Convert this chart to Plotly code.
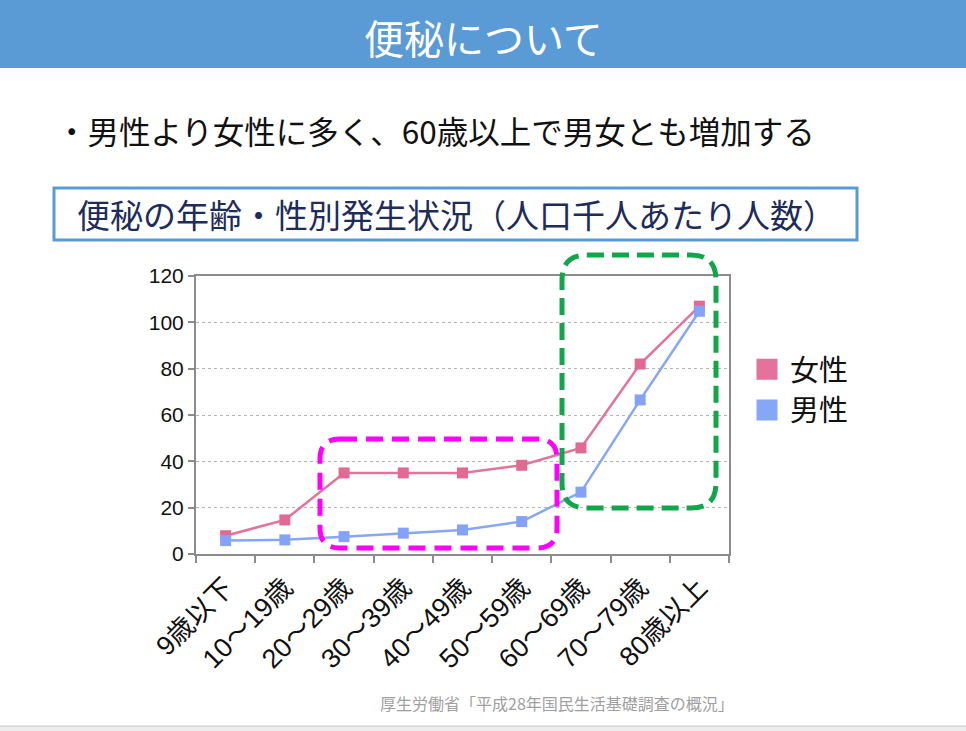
import plotly.graph_objects as go

# data (per 1000 people)
ages = ["9歳以下", "10～19歳", "20～29歳", "30～39歳", "40～49歳",
        "50～59歳", "60～69歳", "70～79歳", "80歳以上"]
female = [7.9, 14.7, 35.0, 35.0, 35.0, 38.3, 45.8, 82.0, 107.0]
male = [5.8, 6.1, 7.5, 9.0, 10.4, 14.0, 26.7, 66.5, 104.8]
y_ticks = [0, 20, 40, 60, 80, 100, 120]

W, H = 966, 731
L, R, T, B = 196, 729, 276, 554   # plot area in page pixels

pink = "#E3739A"
blue = "#86A6F8"
jp = "Noto Sans CJK JP"
latin = "Liberation Sans, Noto Sans CJK JP"


def px(x):
    return (x - L) / (R - L)


def py(y):
    return (B - y) / (B - T)


def rounded_box(x0, y0, x1, y1, r):
    # rounded rectangle path, given in page pixels, converted to paper units
    pts = [
        ("M", [(x0 + r, y0)]),
        ("L", [(x1 - r, y0)]),
        ("Q", [(x1, y0), (x1, y0 + r)]),
        ("L", [(x1, y1 - r)]),
        ("Q", [(x1, y1), (x1 - r, y1)]),
        ("L", [(x0 + r, y1)]),
        ("Q", [(x0, y1), (x0, y1 - r)]),
        ("L", [(x0, y0 + r)]),
        ("Q", [(x0, y0), (x0 + r, y0)]),
    ]
    s = ""
    for cmd, p in pts:
        s += cmd + " " + " ".join("%.4f,%.4f" % (px(a), py(b)) for a, b in p) + " "
    return s + "Z"


fig = go.Figure()

fig.add_trace(go.Scatter(
    x=ages, y=female, mode="lines+markers", name="女性", showlegend=False,
    line=dict(color=pink, width=2.5),
    marker=dict(symbol="square", size=11, color="#E06A92"),
))
fig.add_trace(go.Scatter(
    x=ages, y=male, mode="lines+markers", name="男性", showlegend=False,
    line=dict(color=blue, width=2.5),
    marker=dict(symbol="square", size=11, color="#84A3F8"),
))

# legend entries: big squares only, like the slide
fig.add_trace(go.Scatter(x=[None], y=[None], mode="markers", name="女性",
                         marker=dict(symbol="square", size=24, color=pink,
                                     line=dict(color=pink, width=5))))
fig.add_trace(go.Scatter(x=[None], y=[None], mode="markers", name="男性",
                         marker=dict(symbol="square", size=24, color=blue,
                                     line=dict(color=blue, width=5))))

shapes = [
    # header bar
    dict(type="rect", xref="paper", yref="paper", layer="below",
         x0=px(0), x1=px(W), y0=py(0), y1=py(68),
         fillcolor="#5B9BD5", line_width=0),
    # subtitle box
    dict(type="rect", xref="paper", yref="paper",
         x0=px(54), x1=px(857), y0=py(188), y1=py(240),
         line=dict(color="#5B9BD5", width=3)),
    # bottom strip
    dict(type="rect", xref="paper", yref="paper", layer="below",
         x0=px(-2), x1=px(W + 2), y0=py(726), y1=py(H + 2),
         fillcolor="#EDEDED", line=dict(color="#C8C8C8", width=1)),
    # highlight boxes
    dict(type="path", xref="paper", yref="paper",
         path=rounded_box(320, 439, 557, 548, 20),
         line=dict(color="#FF00FF", width=5, dash="17px,9px")),
    dict(type="path", xref="paper", yref="paper",
         path=rounded_box(562, 255, 716, 508, 25),
         line=dict(color="#12A64A", width=5, dash="17px,8px")),
]

annotations = [
    dict(text="便秘について", x=px(483), y=py(37), xref="paper", yref="paper",
         showarrow=False, xanchor="center", yanchor="middle",
         font=dict(family=jp, size=40, color="white")),
    dict(text="・男性より女性に多く、60歳以上で男女とも増加する",
         x=px(54), y=py(130), xref="paper", yref="paper",
         showarrow=False, xanchor="left", yanchor="middle",
         font=dict(family=jp, size=31.5, color="#111111")),
    dict(text="便秘の年齢・性別発生状況（人口千人あたり人数）",
         x=px(456), y=py(214), xref="paper", yref="paper",
         showarrow=False, xanchor="center", yanchor="middle",
         font=dict(family=jp, size=33, color="#1E2C5C")),
    dict(text="厚生労働省「平成28年国民生活基礎調査の概況」",
         x=px(736), y=py(703), xref="paper", yref="paper",
         showarrow=False, xanchor="right", yanchor="middle",
         font=dict(family=jp, size=16, color="#A0A0A0")),
]

fig.update_layout(
    width=W, height=H,
    margin=dict(l=L, r=W - R, t=T, b=H - B, pad=0),
    paper_bgcolor="white", plot_bgcolor="white",
    shapes=shapes, annotations=annotations,
    legend=dict(x=px(744), y=py(344), xref="paper", yref="paper",
                xanchor="left", yanchor="top",
                font=dict(family=jp, size=29, color="#111111"),
                itemwidth=36, tracegroupgap=0, bgcolor="rgba(0,0,0,0)"),
)

fig.update_xaxes(
    type="category", range=[-0.5, 8.5], tickangle=-45,
    tickson="boundaries", ticks="outside", ticklen=7, tickwidth=2,
    tickcolor="#8C8C8C", showline=True, mirror=True,
    linecolor="#8C8C8C", linewidth=2, showgrid=False,
    ticklabelstandoff=5,
    tickfont=dict(family=latin, size=27, color="#111111"),
)
fig.update_yaxes(
    range=[0, 120], tickvals=y_ticks, ticks="outside", ticklen=6,
    tickwidth=2, tickcolor="#8C8C8C", showline=True, mirror=True,
    linecolor="#8C8C8C", linewidth=2, zeroline=False,
    showgrid=True, gridcolor="#B4B4B4", griddash="dot", gridwidth=1,
    tickfont=dict(family=latin, size=21, color="#111111"),
)

# drop the browser's default 8px body margin so the slide sits at 0,0
fig.write_html("out.html",
               config={"displayModeBar": False},
               post_script="document.body.style.margin='0';"
                           "document.body.style.overflow='hidden';")
